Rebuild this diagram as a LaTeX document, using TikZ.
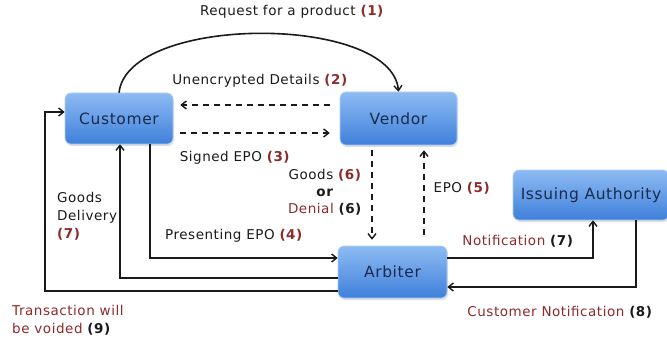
\documentclass[tikz,border=0pt]{standalone}
\usepackage{fontspec}
\setmainfont{DejaVu Sans}
\newfontfamily\labfont{DejaVu Sans}[LetterSpace=4]
\usetikzlibrary{arrows.meta,shadows,calc}
\definecolor{boxtop}{HTML}{8DBBF3}
\definecolor{boxbot}{HTML}{3F80DA}
\definecolor{boxtext}{HTML}{1B2A4E}
\definecolor{lbl}{HTML}{8E2A2A}
\definecolor{ink}{HTML}{1A1A1A}
\newcommand{\rn}[1]{\textcolor{lbl}{\textbf{#1}}}
\newcommand{\bn}[1]{\textcolor{ink}{\textbf{#1}}}
\tikzset{
  entity/.style={rounded corners=6pt, draw=boxtop!70!white, line width=0.6pt,
    top color=boxtop, bottom color=boxbot, text=boxtext,
    font=\labfont\fontsize{15.5}{18}\selectfont,
    drop shadow={opacity=0.25, shadow xshift=1pt, shadow yshift=-2pt}},
  flow/.style={line width=1.6pt, draw=ink, -{Straight Barb[length=5pt,width=8pt,line width=1.4pt]}},
  dflow/.style={flow, dash pattern=on 6pt off 5pt},
  lab/.style={font=\labfont\fontsize{13.5}{18}\selectfont, text=ink, inner sep=0pt}
}
\begin{document}
\begin{tikzpicture}[x=1pt,y=-1pt]
\useasboundingbox (0,0) rectangle (667,345);
% boxes
\node[entity, minimum width=108pt, minimum height=51pt] (cust) at (119,118.5) {Customer};
\node[entity, minimum width=117pt, minimum height=53pt] (vend) at (398.5,118.5) {Vendor};
\node[entity, minimum width=156pt, minimum height=50pt] (ia) at (591,195) {Issuing Authority};
\node[entity, minimum width=109pt, minimum height=52pt] (arb) at (392.5,272) {Arbiter};
% request curve
\draw[flow] (cust.north) .. controls (128,14) and (392,14) .. (vend.north);
\node[lab] (l1) at (292,12) {Request for a product \rn{(1)}};
% dashed horizontal
\draw[dflow, shorten <=10pt, shorten >=7pt] (vend.west |- 0,105) -- (cust.east |- 0,105);
\draw[dflow, shorten <=7pt, shorten >=10pt] (cust.east |- 0,133) -- (vend.west |- 0,133);
\node[lab] (l2) at (260,81) {Unencrypted Details \rn{(2)}};
\node[lab] (l3) at (235,158) {Signed EPO \rn{(3)}};
% dashed vertical
\draw[dflow, shorten <=5pt, shorten >=6pt] (vend.south -| 372,0) -- (arb.north -| 372,0);
\draw[dflow, shorten <=11pt, shorten >=5pt] (arb.north -| 424,0) -- (vend.south -| 424,0);
\node[lab, align=center] (l6) at (325,192) {Goods \rn{(6)}\\[-1pt]\textbf{or}\\[-1pt]\textcolor{lbl}{Denial} \bn{(6)}};
\node[lab] (l5) at (462,188) {EPO \rn{(5)}};
% customer <-> arbiter
\draw[flow] (cust.south -| 150,0) |- (arb.west |- 0,258);
\node[lab] (l4) at (234,236) {Presenting EPO \rn{(4)}};
\draw[flow] (arb.west |- 0,278) -| (cust.south -| 120,0);
\node[lab, align=left, anchor=west] (l7) at (57,216) {Goods\\Delivery\\\rn{(7)}};
\coordinate (tv) at (45,112);
\draw[flow] (arb.west |- 0,291) -| (tv) -- (cust.west |- tv);
\node[lab, align=left, anchor=west] (l9) at (12,320) {\textcolor{lbl}{Transaction will}\\\textcolor{lbl}{be voided} \bn{(9)}};
% arbiter <-> issuing authority
\draw[flow] (arb.east |- 0,258) -| (ia.south -| 593,0);
\node[lab] (l7b) at (518,241) {\textcolor{lbl}{Notification} \bn{(7)}};
\draw[flow] (ia.south -| 636,0) |- (arb.east |- 0,287);
\node[lab] (l8) at (560,312) {\textcolor{lbl}{Customer Notification} \bn{(8)}};
\end{tikzpicture}
\end{document}
